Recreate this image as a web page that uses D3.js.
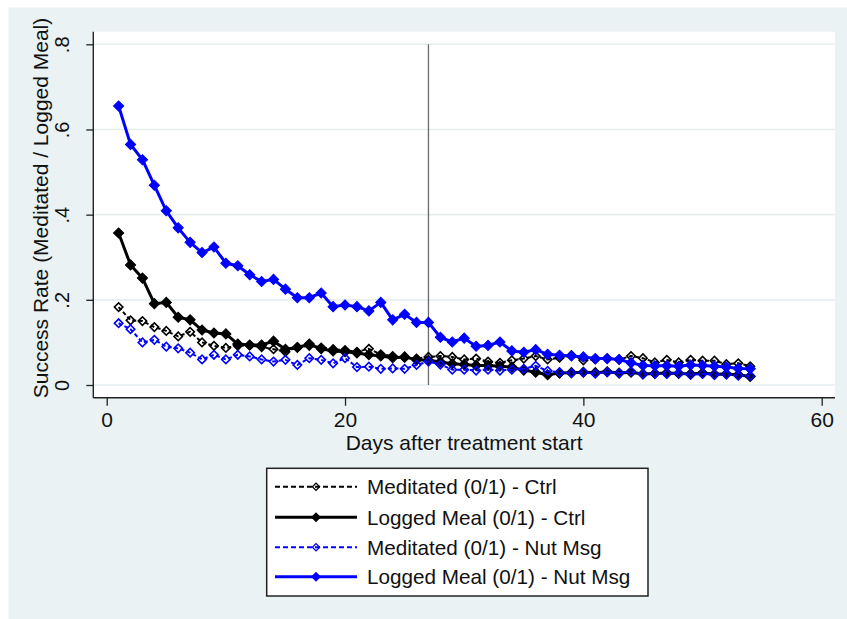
<!DOCTYPE html>
<html>
<head>
<meta charset="utf-8">
<script src="https://cdn.jsdelivr.net/npm/d3@7"></script>
<style>
  html, body { margin: 0; padding: 0; background: #ffffff; }
  svg { display: block; }
  text { font-family: "Liberation Sans", Arial, sans-serif; fill: #111; }
</style>
</head>
<body>
<svg id="chart" width="847" height="619"></svg>
<script>
// Days after treatment start
const days = [1,2,3,4,5,6,7,8,9,10,11,12,13,14,15,16,17,18,19,20,21,22,23,24,25,26,27,
              28,29,30,31,32,33,34,35,36,37,38,39,40,41,42,43,44,45,46,47,48,49,50,51,52,53,54];

// Daily success rates per outcome and group
const meditatedCtrl = [0.183,0.152,0.150,0.136,0.127,0.114,0.125,0.100,0.092,0.087,0.092,0.093,0.089,0.084,
                       0.078,0.089,0.092,0.088,0.084,0.082,0.078,0.085,0.072,0.068,0.064,0.062,0.066,
                       0.068,0.066,0.060,0.062,0.055,0.052,0.058,0.062,0.068,0.060,0.064,0.070,0.058,
                       0.060,0.062,0.060,0.068,0.063,0.053,0.059,0.053,0.059,0.057,0.057,0.049,0.051,0.044];
const loggedCtrl    = [0.357,0.282,0.251,0.191,0.194,0.159,0.153,0.129,0.122,0.120,0.096,0.094,0.094,0.103,
                       0.084,0.088,0.096,0.085,0.080,0.078,0.075,0.071,0.068,0.064,0.066,0.059,0.058,
                       0.054,0.050,0.048,0.046,0.046,0.044,0.042,0.035,0.030,0.024,0.028,0.029,0.030,
                       0.029,0.031,0.028,0.030,0.026,0.027,0.028,0.027,0.026,0.028,0.025,0.026,0.024,0.020];
const meditatedNut  = [0.145,0.131,0.100,0.106,0.090,0.086,0.076,0.060,0.071,0.060,0.071,0.067,0.060,0.055,
                       0.059,0.047,0.063,0.059,0.051,0.063,0.042,0.043,0.038,0.039,0.038,0.047,0.055,
                       0.048,0.036,0.036,0.034,0.036,0.034,0.036,0.038,0.045,0.033,0.030,0.028,0.030,
                       0.027,0.030,0.028,0.032,0.025,0.027,0.026,0.028,0.024,0.026,0.024,0.025,0.022,0.022];
const loggedNut     = [0.655,0.565,0.529,0.469,0.409,0.369,0.335,0.311,0.324,0.286,0.280,0.259,0.243,0.248,
                       0.225,0.205,0.205,0.216,0.184,0.188,0.184,0.174,0.194,0.153,0.166,0.147,0.147,
                       0.112,0.101,0.110,0.091,0.093,0.101,0.080,0.077,0.083,0.072,0.070,0.068,0.066,
                       0.062,0.062,0.060,0.052,0.046,0.045,0.045,0.044,0.047,0.046,0.044,0.042,0.039,0.038];

const seriesNames = ["Meditated (0/1) - Ctrl", "Logged Meal (0/1) - Ctrl",
                     "Meditated (0/1) - Nut Msg", "Logged Meal (0/1) - Nut Msg"];

// Axis ticks and the reference day line
const xTicks = [0, 20, 40, 60];
const yTicks = [0, 0.2, 0.4, 0.6, 0.8];
const yTickLabels = ["0", ".2", ".4", ".6", ".8"];
const refDay = 27;

const svg = d3.select("#chart");
const W = 847, H = 619;

// graph region background
svg.append("rect").attr("x", 8.5).attr("y", 7.5).attr("width", W - 8.5).attr("height", H - 7.5)
   .attr("fill", "#eaf2f3");

// plot region
const plot = { left: 93.3, right: 835, top: 31.7, bottom: 397.7 };
svg.append("rect").attr("x", plot.left).attr("y", plot.top)
   .attr("width", plot.right - plot.left).attr("height", plot.bottom - plot.top)
   .attr("fill", "#ffffff");

const x = d3.scaleLinear().domain([0, 60]).range([106.7, 821.7]);
const y = d3.scaleLinear().domain([0, 0.8]).range([385, 44.3]);

// horizontal grid
svg.append("g").selectAll("line").data(yTicks).join("line")
   .attr("x1", plot.left).attr("x2", plot.right)
   .attr("y1", d => y(d)).attr("y2", d => y(d))
   .attr("stroke", "#e6eef0").attr("stroke-width", 1.6);

// x axis
const xAxis = svg.append("g").attr("transform", `translate(0,${plot.bottom})`)
  .call(d3.axisBottom(x).tickValues(xTicks).tickFormat(d3.format("d")).tickSize(8).tickPadding(6).tickSizeOuter(0));
xAxis.select(".domain").remove();
xAxis.selectAll(".tick line").attr("stroke", "#222").attr("stroke-width", 1.3);
xAxis.selectAll(".tick text").style("font-size", "21px").attr("fill", "#111")
     .style("font-family", "'Liberation Sans', Arial, sans-serif");
svg.append("line").attr("x1", plot.left).attr("x2", plot.right)
   .attr("y1", plot.bottom).attr("y2", plot.bottom).attr("stroke", "#222").attr("stroke-width", 1.4);

// y axis
const yAxis = svg.append("g").attr("transform", `translate(${plot.left},0)`)
  .call(d3.axisLeft(y).tickValues(yTicks).tickFormat((d, i) => yTickLabels[i]).tickSize(7).tickSizeOuter(0));
yAxis.select(".domain").remove();
yAxis.selectAll(".tick line").attr("stroke", "#222").attr("stroke-width", 1.3);
yAxis.selectAll(".tick text")
     .attr("x", null).attr("dy", null)
     .attr("text-anchor", "middle")
     .attr("transform", "translate(-24,0) rotate(-90)")
     .style("font-size", "20px").attr("fill", "#111")
     .style("font-family", "'Liberation Sans', Arial, sans-serif");
svg.append("line").attr("x1", plot.left).attr("x2", plot.left)
   .attr("y1", plot.top).attr("y2", plot.bottom).attr("stroke", "#222").attr("stroke-width", 1.4);

// axis titles
svg.append("text").attr("x", (plot.left + plot.right) / 2).attr("y", 450)
   .attr("text-anchor", "middle").style("font-size", "21px")
   .text("Days after treatment start");
svg.append("text").attr("transform", "translate(48,208) rotate(-90)")
   .attr("text-anchor", "middle").style("font-size", "21px")
   .text("Success Rate (Meditated / Logged Meal)");

// reference line at the end of the first phase
svg.append("line").attr("x1", x(refDay)).attr("x2", x(refDay))
   .attr("y1", y(0)).attr("y2", y(0.8)).attr("stroke", "#6b6b6b").attr("stroke-width", 1.3);

// series
const blue = "#0000ff";
const styles = [
  { values: meditatedCtrl, color: "#000", dash: "4,2.5", width: 2,   hollow: true },
  { values: loggedCtrl,    color: "#000", dash: null,    width: 3,   hollow: false },
  { values: meditatedNut,  color: blue,   dash: "4,2.5", width: 2,   hollow: true },
  { values: loggedNut,     color: blue,   dash: null,    width: 3,   hollow: false }
];

const line = d3.line().x(d => x(d[0])).y(d => y(d[1]));
const diamond = d3.symbol().type(d3.symbolSquare);

styles.forEach(s => {
  const pts = days.map((d, i) => [d, s.values[i]]);
  const g = svg.append("g");
  g.append("path").datum(pts).attr("d", line)
   .attr("fill", "none").attr("stroke", s.color).attr("stroke-width", s.width)
   .attr("stroke-dasharray", s.dash).attr("stroke-linejoin", "round");
  g.selectAll("path.m").data(pts).join("path").attr("class", "m")
   .attr("d", diamond.size(s.hollow ? 36 : 52)())
   .attr("transform", d => `translate(${x(d[0])},${y(d[1])}) rotate(45)`)
   .attr("fill", s.hollow ? "none" : s.color)
   .attr("stroke", s.color).attr("stroke-width", s.hollow ? 1.6 : 1);
});

// legend
const lg = { x: 266.7, y: 468.3, w: 381.3, h: 127.7 };
svg.append("rect").attr("x", lg.x).attr("y", lg.y).attr("width", lg.w).attr("height", lg.h)
   .attr("fill", "#ffffff").attr("stroke", "#222").attr("stroke-width", 1.5);
const rowY = [486.7, 517.3, 547.3, 576.7];
styles.forEach((s, i) => {
  const g = svg.append("g").attr("transform", `translate(0,${rowY[i]})`);
  g.append("line").attr("x1", 275).attr("x2", 357).attr("y1", 0).attr("y2", 0)
   .attr("stroke", s.color).attr("stroke-width", s.width).attr("stroke-dasharray", s.hollow ? "5,3" : null);
  g.append("path").attr("d", diamond.size(s.hollow ? 26 : 36)())
   .attr("transform", "translate(316,0) rotate(45)")
   .attr("fill", s.hollow ? "none" : s.color)
   .attr("stroke", s.color).attr("stroke-width", s.hollow ? 1.3 : 1);
  g.append("text").attr("x", 367).attr("y", 7.5).style("font-size", "20.7px")
   .text(seriesNames[i]);
});
</script>
</body>
</html>
